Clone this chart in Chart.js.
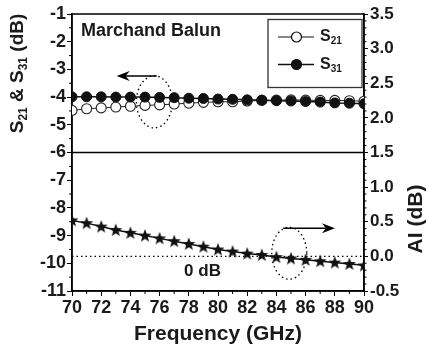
<!DOCTYPE html>
<html>
<head>
<meta charset="utf-8">
<script src="https://cdn.jsdelivr.net/npm/chart.js@4/dist/chart.umd.min.js"></script>
<style>
  body { margin: 0; background: #fff; }
  #wrap { width: 427px; height: 347px; }
</style>
</head>
<body>
<div id="wrap"><canvas id="mycanvas" width="427" height="347"></canvas></div>
<script>
// frequency points (GHz)
var freq = [70, 71, 72, 73, 74, 75, 76, 77, 78, 79, 80, 81, 82, 83, 84, 85, 86, 87, 88, 89, 90];
// S21 / S31 in dB (left axis)
var s21 = [-4.48, -4.42, -4.39, -4.36, -4.33, -4.30, -4.28, -4.25, -4.22, -4.19, -4.17, -4.17, -4.14, -4.12, -4.11, -4.10, -4.11, -4.12, -4.12, -4.13, -4.15];
var s31 = [-3.99, -3.99, -3.99, -4.00, -4.00, -4.00, -4.01, -4.02, -4.04, -4.05, -4.07, -4.08, -4.10, -4.11, -4.13, -4.14, -4.16, -4.18, -4.21, -4.22, -4.24];
// amplitude imbalance in dB (right axis)
var ai = [0.52, 0.48, 0.43, 0.38, 0.34, 0.30, 0.26, 0.22, 0.18, 0.14, 0.10, 0.07, 0.04, 0.02, -0.01, -0.03, -0.05, -0.07, -0.09, -0.11, -0.13];

var FONT = "'Liberation Sans', Arial, sans-serif";
var INK = '#1a1a1a';

function pts(ys) {
  return freq.map(function(f, i) { return {x: f, y: ys[i]}; });
}

// filled five point star used as marker
var star = document.createElement('canvas');
star.width = 14; star.height = 14;
(function() {
  var c = star.getContext('2d');
  c.fillStyle = '#111';
  c.beginPath();
  for (var k = 0; k < 10; k++) {
    var r = (k % 2 === 0) ? 6.8 : 2.9;
    var a = -Math.PI / 2 + k * Math.PI / 5;
    var px = 7 + r * Math.cos(a), py = 7.4 + r * Math.sin(a);
    if (k === 0) c.moveTo(px, py); else c.lineTo(px, py);
  }
  c.closePath();
  c.fill();
})();

// text with subscripts: parts = [[text, isSub], ...]
function partsWidth(ctx, parts, size) {
  var w = 0;
  parts.forEach(function(p) {
    ctx.font = 'bold ' + (p[1] ? Math.round(size * 0.62) : size) + 'px ' + FONT;
    w += ctx.measureText(p[0]).width;
  });
  return w;
}
function drawParts(ctx, parts, x, y, size) {
  parts.forEach(function(p) {
    var s = p[1] ? Math.round(size * 0.62) : size;
    ctx.font = 'bold ' + s + 'px ' + FONT;
    ctx.fillText(p[0], x, p[1] ? y + size * 0.28 : y);
    x += ctx.measureText(p[0]).width;
  });
}

var extras = {
  id: 'extras',
  beforeDatasetsDraw: function(chart) {
    var ctx = chart.ctx, a = chart.chartArea;
    var X = chart.scales.x, Y = chart.scales.y, Y2 = chart.scales.y2;
    ctx.save();
    // frame
    ctx.strokeStyle = '#000';
    ctx.lineWidth = 1.5;
    ctx.strokeRect(a.left, a.top, a.right - a.left, a.bottom - a.top);
    // split line at -6 dB
    ctx.lineWidth = 1.3;
    ctx.beginPath();
    var yl = Y.getPixelForValue(-6);
    ctx.moveTo(a.left, yl); ctx.lineTo(a.right, yl);
    ctx.stroke();
    // 0 dB dotted reference
    ctx.lineWidth = 1.2;
    ctx.setLineDash([1.5, 3]);
    var y0 = Y2.getPixelForValue(0);
    ctx.beginPath();
    ctx.moveTo(a.left, y0); ctx.lineTo(a.right, y0);
    ctx.stroke();
    // dotted ellipses
    ctx.lineWidth = 1.3;
    ctx.beginPath();
    ctx.ellipse(X.getPixelForValue(75.64), Y.getPixelForValue(-4.17),
      X.getPixelForValue(76.87) - X.getPixelForValue(75.64),
      Y.getPixelForValue(-5.11) - Y.getPixelForValue(-4.17), 0, 0, Math.PI * 2);
    ctx.stroke();
    ctx.beginPath();
    ctx.ellipse(X.getPixelForValue(84.88), Y2.getPixelForValue(0.045),
      X.getPixelForValue(86.08) - X.getPixelForValue(84.88),
      Y2.getPixelForValue(-0.33) - Y2.getPixelForValue(0.045), 0, 0, Math.PI * 2);
    ctx.stroke();
    ctx.setLineDash([]);
    // arrows
    function arrow(x1, x2, y, dir) {
      ctx.lineWidth = 1.5;
      ctx.beginPath();
      ctx.moveTo(x1, y); ctx.lineTo(x2 - dir * 6, y);
      ctx.stroke();
      ctx.fillStyle = '#000';
      ctx.beginPath();
      ctx.moveTo(x2, y);
      ctx.lineTo(x2 - dir * 13, y - 5);
      ctx.lineTo(x2 - dir * 9, y);
      ctx.lineTo(x2 - dir * 13, y + 5);
      ctx.closePath();
      ctx.fill();
    }
    arrow(X.getPixelForValue(75.8), X.getPixelForValue(73.06), Y.getPixelForValue(-3.24), -1);
    arrow(X.getPixelForValue(84.47), X.getPixelForValue(88.01), Y2.getPixelForValue(0.405), 1);

    // minor ticks
    ctx.strokeStyle = '#000';
    ctx.lineWidth = 1;
    ctx.beginPath();
    for (var v = -10.5; v < -1; v += 1) {
      var py = Y.getPixelForValue(v);
      ctx.moveTo(a.left, py); ctx.lineTo(a.left - 3, py);
    }
    for (var k = -5; k <= 35; k++) {
      if (k % 5 === 0) continue;
      var py2 = Y2.getPixelForValue(k / 10);
      ctx.moveTo(a.right, py2); ctx.lineTo(a.right + 2.5, py2);
    }
    for (var f = 71; f < 90; f += 2) {
      var px = X.getPixelForValue(f);
      ctx.moveTo(px, a.bottom); ctx.lineTo(px, a.bottom + 3);
    }
    ctx.stroke();
    ctx.restore();
  },
  afterDraw: function(chart) {
    var ctx = chart.ctx, a = chart.chartArea;
    var X = chart.scales.x, Y2 = chart.scales.y2;
    ctx.save();
    ctx.fillStyle = INK;
    ctx.textBaseline = 'middle';
    ctx.textAlign = 'left';
    ctx.font = 'bold 18px ' + FONT;
    ctx.fillText('Marchand Balun', a.left + 9, a.top + 17);

    ctx.textAlign = 'center';
    ctx.font = 'bold 17px ' + FONT;
    ctx.fillText('0 dB', X.getPixelForValue(78.94), Y2.getPixelForValue(-0.22));

    // legend
    var bx = 268, by = 19.5, bw = 94, bh = 68;
    ctx.fillStyle = '#fff';
    ctx.fillRect(bx, by, bw, bh);
    ctx.strokeStyle = '#333';
    ctx.lineWidth = 1.3;
    ctx.strokeRect(bx, by, bw, bh);
    var rows = [[s21, 'S', '21', '#fff', 1], [s31, 'S', '31', '#111', 1.5]];
    rows.forEach(function(r, i) {
      var ry = by + 17.5 + i * 27.5;
      ctx.strokeStyle = '#111';
      ctx.lineWidth = r[4];
      ctx.beginPath();
      ctx.moveTo(bx + 10, ry); ctx.lineTo(bx + 46, ry);
      ctx.stroke();
      ctx.beginPath();
      ctx.arc(bx + 28.5, ry, 5, 0, Math.PI * 2);
      ctx.fillStyle = r[3];
      ctx.fill();
      ctx.lineWidth = 1.2;
      ctx.stroke();
      ctx.fillStyle = INK;
      ctx.textAlign = 'left';
      drawParts(ctx, [[r[1], false], [r[2], true]], bx + 52, ry, 16);
    });

    // axis titles
    ctx.textAlign = 'left';
    var left = [['S', false], ['21', true], [' & S', false], ['31', true], [' (dB)', false]];
    var lw = partsWidth(ctx, left, 19);
    ctx.save();
    ctx.translate(18, 73.5);
    ctx.rotate(-Math.PI / 2);
    drawParts(ctx, left, -lw / 2, 0, 19);
    ctx.restore();

    ctx.save();
    ctx.translate(416, 219);
    ctx.rotate(-Math.PI / 2);
    ctx.textAlign = 'center';
    ctx.font = 'bold 21px ' + FONT;
    ctx.fillText('AI (dB)', 0, 0);
    ctx.restore();

    ctx.textAlign = 'center';
    ctx.font = 'bold 21px ' + FONT;
    ctx.fillText('Frequency (GHz)', (a.left + a.right) / 2, 334);
    ctx.restore();
  }
};

var tickFont = {family: FONT, size: 18, weight: 'bold'};

var chartdata = {
  datasets: [
    {
      label: 'S31',
      data: pts(s31),
      yAxisID: 'y',
      borderColor: '#111',
      borderWidth: 1.5,
      backgroundColor: '#111',
      pointStyle: 'circle',
      pointRadius: 5,
      pointBorderWidth: 1,
      pointBackgroundColor: '#111'
    },
    {
      label: 'S21',
      data: pts(s21),
      yAxisID: 'y',
      borderColor: '#222',
      borderWidth: 1,
      pointStyle: 'circle',
      pointRadius: 5,
      pointBorderWidth: 1.1,
      pointBorderColor: '#222',
      pointBackgroundColor: '#fff'
    },
    {
      label: 'AI',
      data: pts(ai),
      yAxisID: 'y2',
      borderColor: '#111',
      borderWidth: 1.5,
      pointStyle: star,
      pointRadius: 7
    }
  ]
};

var ctx = document.getElementById('mycanvas');

var lineChart = new Chart(ctx, {
  type: 'line',
  data: chartdata,
  plugins: [extras],
  options: {
    responsive: false,
    animation: false,
    devicePixelRatio: 1,
    layout: {padding: {top: 14, left: 0, right: 0, bottom: 0}},
    plugins: {legend: {display: false}, tooltip: {enabled: false}},
    scales: {
      x: {
        type: 'linear',
        min: 70, max: 90,
        afterFit: function(s) { s.height = 56; },
        ticks: {stepSize: 2, color: INK, font: tickFont, padding: 1},
        grid: {drawOnChartArea: false, tickLength: 5, color: '#000'},
        border: {color: '#000', width: 1.5}
      },
      y: {
        position: 'left',
        min: -11, max: -1,
        afterFit: function(s) { s.width = 72; },
        ticks: {stepSize: 1, color: INK, font: tickFont, padding: 1},
        grid: {drawOnChartArea: false, tickLength: 5, color: '#000'},
        border: {color: '#000', width: 1.5}
      },
      y2: {
        position: 'right',
        min: -0.5, max: 3.5,
        afterFit: function(s) { s.width = 63; },
        ticks: {stepSize: 0.5, color: INK, font: {family: FONT, size: 17, weight: 'bold'}, padding: 2,
          callback: function(v) { return v.toFixed(1); }},
        grid: {drawOnChartArea: false, tickLength: 4, color: '#000'},
        border: {color: '#000', width: 1.5}
      }
    }
  }
});
</script>
</body>
</html>
